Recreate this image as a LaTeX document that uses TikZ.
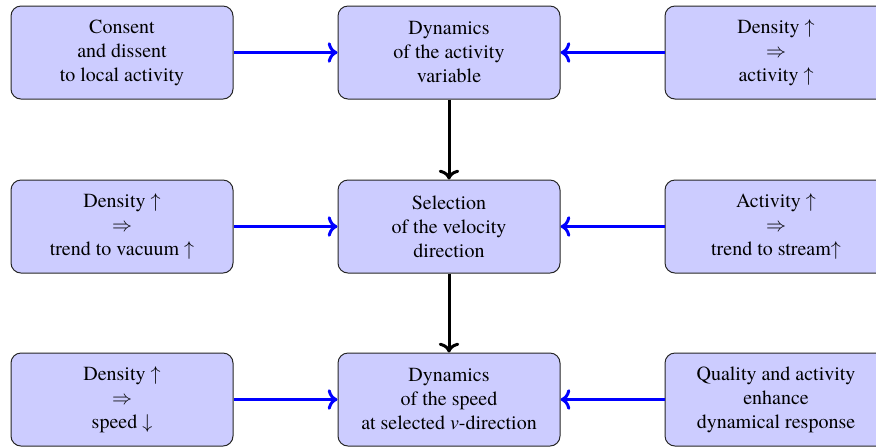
\documentclass[tikz,border=0pt]{standalone}
\usepackage{fontspec}
\setmainfont{TeX Gyre Termes}
\usetikzlibrary{arrows.meta}
\begin{document}
\begin{tikzpicture}[x=1pt,y=1pt,
  box/.style={draw=black!85, line width=0.5pt, fill=blue!20, rounded corners=5pt,
    minimum width=111pt, minimum height=46.5pt, align=center, inner sep=2pt,
    font=\fontsize{10pt}{12pt}\selectfont},
  blu/.style={draw=blue, line width=1.5pt, ->},
  blk/.style={draw=black, line width=1.5pt, ->}]
\useasboundingbox (0,0) rectangle (438,-223.5);
\node[box] (c1) at (224.5,-26.25) {Dynamics\\of the activity\\variable};
\node[box] (c2) at (224.5,-113.25) {Selection\\of the velocity\\direction};
\node[box] (c3) at (224.5,-199.75) {Dynamics\\of the speed\\at selected \textit{v}-direction};
\node[box] (l1) at (61,-26.25) {Consent\\and dissent\\to local activity};
\node[box] (l2) at (61,-113.25) {Density $\uparrow$\\$\Rightarrow$\\trend to vacuum $\uparrow$};
\node[box] (l3) at (61,-199.75) {Density $\uparrow$\\$\Rightarrow$\\speed $\downarrow$};
\node[box] (r1) at (388,-26.25) {Density $\uparrow$\\$\Rightarrow$\\activity $\uparrow$};
\node[box] (r2) at (388,-113.25) {Activity $\uparrow$\\$\Rightarrow$\\trend to stream$\uparrow$};
\node[box] (r3) at (388,-199.75) {Quality and activity\\enhance\\dynamical response};
\draw[blu] (l1) -- (c1);
\draw[blu] (l2) -- (c2);
\draw[blu] (l3) -- (c3);
\draw[blu] (r1) -- (c1);
\draw[blu] (r2) -- (c2);
\draw[blu] (r3) -- (c3);
\draw[blk] (c1) -- (c2);
\draw[blk] (c2) -- (c3);
\end{tikzpicture}
\end{document}
